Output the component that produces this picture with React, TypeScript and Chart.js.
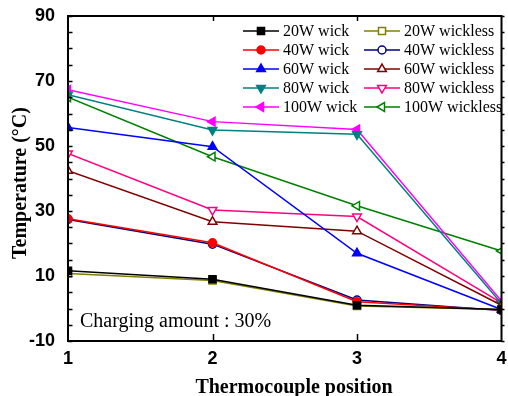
import React, { useEffect, useRef } from 'react';
import { Chart, registerables } from 'chart.js';

Chart.register(...registerables);

const positions = [1, 2, 3, 4];
const yTickValues = [-10, 10, 30, 50, 70, 90];

const w20Wick = [11.6, 9.0, 1.0, -0.3];
const w20Wickless = [10.8, 8.6, 0.8, -0.3];
const w40Wick = [27.6, 20.2, 2.1, -0.5];
const w40Wickless = [27.4, 19.8, 2.6, -0.6];
const w60Wick = [55.7, 49.8, 17.0, -0.3];
const w60Wickless = [42.4, 26.7, 23.8, 1.0];
const w80Wick = [65.8, 54.9, 53.6, 1.5];
const w80Wickless = [47.7, 30.3, 28.3, 1.7];
const w100Wick = [67.3, 57.5, 55.1, 2.3];
const w100Wickless = [65.0, 46.7, 31.6, 17.7];

const seriesLabels = [
  '20W wick', '20W wickless',
  '40W wick', '40W wickless',
  '60W wick', '60W wickless',
  '80W wick', '80W wickless',
  '100W wick', '100W wickless',
];
const seriesValues = [
  w20Wick, w20Wickless, w40Wick, w40Wickless, w60Wick,
  w60Wickless, w80Wick, w80Wickless, w100Wick, w100Wickless,
];
const seriesColors = [
  '#000000', '#808000', '#ff0000', '#000080', '#0000ff',
  '#800000', '#008080', '#ff0080', '#ff00ff', '#008000',
];
const seriesStyles = ['rect', 'rect', 'circle', 'circle', 'triangle', 'triangle', 'triangle', 'triangle', 'triangle', 'triangle'];
const seriesRotation = [0, 0, 0, 0, 0, 0, 180, 180, 270, 270];
const seriesFilled = [true, false, true, false, true, false, true, false, true, false];

const xTitle = 'Thermocouple position';
const yTitle = 'Temperature (°C)';
const noteText = 'Charging amount : 30%';

function markerRadius(style: string) {
  return style === 'circle' ? 4 : 5;
}

function drawMarker(ctx: CanvasRenderingContext2D, x: number, y: number, i: number) {
  const style = seriesStyles[i];
  const r = markerRadius(style);
  const rot = (seriesRotation[i] * Math.PI) / 180;
  ctx.save();
  ctx.beginPath();
  if (style === 'circle') {
    ctx.arc(x, y, r, 0, Math.PI * 2);
  } else if (style === 'rect') {
    const s = r * Math.SQRT1_2;
    ctx.rect(x - s, y - s, 2 * s, 2 * s);
  } else {
    let a = rot - Math.PI / 2;
    for (let k = 0; k < 3; k++) {
      const px = x + Math.cos(a) * r;
      const py = y + Math.sin(a) * r;
      if (k === 0) ctx.moveTo(px, py); else ctx.lineTo(px, py);
      a += (2 * Math.PI) / 3;
    }
    ctx.closePath();
  }
  ctx.fillStyle = seriesFilled[i] ? seriesColors[i] : '#ffffff';
  ctx.fill();
  ctx.strokeStyle = seriesColors[i];
  ctx.lineWidth = 1.5;
  ctx.stroke();
  ctx.restore();
}

const framePlugin = {
  id: 'framePlugin',
  afterDatasetsDraw(chart: any) {
    const ctx: CanvasRenderingContext2D = chart.ctx;
    const { left, right, top, bottom } = chart.chartArea;
    const ys = chart.scales.y;
    const xs = chart.scales.x;
    ctx.save();
    ctx.strokeStyle = '#000';
    ctx.lineWidth = 1.5;
    for (let v = -10; v <= 90; v += 5) {
      const py = Math.round(ys.getPixelForValue(v)) + 0.5;
      ctx.beginPath();
      ctx.moveTo(left, py);
      ctx.lineTo(left + 4.5, py);
      ctx.moveTo(right, py);
      ctx.lineTo(right + 3, py);
      ctx.stroke();
    }
    for (const v of [2, 3]) {
      const px = Math.round(xs.getPixelForValue(v)) + 0.5;
      ctx.beginPath();
      ctx.moveTo(px, bottom);
      ctx.lineTo(px, bottom - 7);
      ctx.moveTo(px, top);
      ctx.lineTo(px, top + 5);
      ctx.stroke();
    }
    ctx.lineWidth = 2;
    ctx.strokeRect(left, top, right - left, bottom - top);

    // legend
    ctx.font = '16px "Liberation Serif"';
    ctx.textBaseline = 'middle';
    ctx.textAlign = 'left';
    for (let i = 0; i < seriesLabels.length; i++) {
      const col = i % 2;
      const row = Math.floor(i / 2);
      const cy = 31 + row * 19;
      const x0 = col === 0 ? 243 : 364;
      ctx.strokeStyle = seriesColors[i];
      ctx.lineWidth = 1.5;
      ctx.beginPath();
      ctx.moveTo(x0, cy);
      ctx.lineTo(x0 + 36, cy);
      ctx.stroke();
      drawMarker(ctx, x0 + 18, cy, i);
      ctx.fillStyle = '#000';
      ctx.fillText(seriesLabels[i], x0 + 40, cy + 1);
    }

    // note
    ctx.font = '20px "Liberation Serif"';
    ctx.textBaseline = 'alphabetic';
    ctx.fillStyle = '#000';
    ctx.fillText(noteText, 80, 327);

    // axis titles
    ctx.font = 'bold 20px "Liberation Serif"';
    ctx.textAlign = 'center';
    ctx.fillText(xTitle, 294, 393);
    ctx.save();
    ctx.translate(26, 183);
    ctx.rotate(-Math.PI / 2);
    ctx.fillText(yTitle, 0, 0);
    ctx.restore();
    ctx.restore();
  },
};

export default function App() {
  const ref = useRef<HTMLCanvasElement>(null);
  useEffect(() => {
    if (!ref.current) return;
    const chart = new Chart(ref.current, {
      type: 'line',
      data: {
        datasets: seriesLabels.map((label, i) => ({
          label,
          data: positions.map((p, j) => ({ x: p, y: seriesValues[i][j] })),
          borderColor: seriesColors[i],
          backgroundColor: seriesFilled[i] ? seriesColors[i] : '#ffffff',
          pointBackgroundColor: seriesFilled[i] ? seriesColors[i] : '#ffffff',
          pointBorderColor: seriesColors[i],
          pointStyle: seriesStyles[i] as any,
          rotation: seriesRotation[i],
          pointRadius: markerRadius(seriesStyles[i]),
          pointBorderWidth: 1.5,
          borderWidth: 1.5,
          tension: 0,
          fill: false,
          clip: 0,
        })),
      },
      options: {
        animation: false,
        responsive: false,
        devicePixelRatio: 1,
        events: [],
        layout: { padding: { top: 16, right: 3, left: 0, bottom: 0 } },
        plugins: { legend: { display: false }, tooltip: { enabled: false }, title: { display: false } },
        scales: {
          x: {
            type: 'linear',
            min: 1,
            max: 4,
            grid: { display: false },
            border: { display: false },
            ticks: {
              stepSize: 1,
              color: '#000',
              padding: -1,
              maxRotation: 0,
              font: { family: 'Liberation Sans', size: 18, weight: 'bold' },
            },
            afterFit(scale: any) {
              scale.height = 55;
              scale.paddingLeft = 0;
              scale.paddingRight = 0;
            },
          },
          y: {
            type: 'linear',
            min: -10,
            max: 90,
            grid: { display: false },
            border: { display: false },
            afterBuildTicks(scale: any) {
              scale.ticks = yTickValues.map((v) => ({ value: v }));
            },
            ticks: {
              color: '#000',
              padding: 5,
              font: { family: 'Liberation Sans', size: 18, weight: 'bold' },
            },
            afterFit(scale: any) {
              scale.width = 68;
              scale.paddingTop = 0;
              scale.paddingBottom = 0;
            },
          },
        },
      },
      plugins: [framePlugin],
    });
    return () => chart.destroy();
  }, []);
  return (
    <div style={{ position: 'absolute', left: 0, top: 0, width: 508, height: 396, background: '#fff' }}>
      <canvas ref={ref} width={508} height={396} />
    </div>
  );
}
